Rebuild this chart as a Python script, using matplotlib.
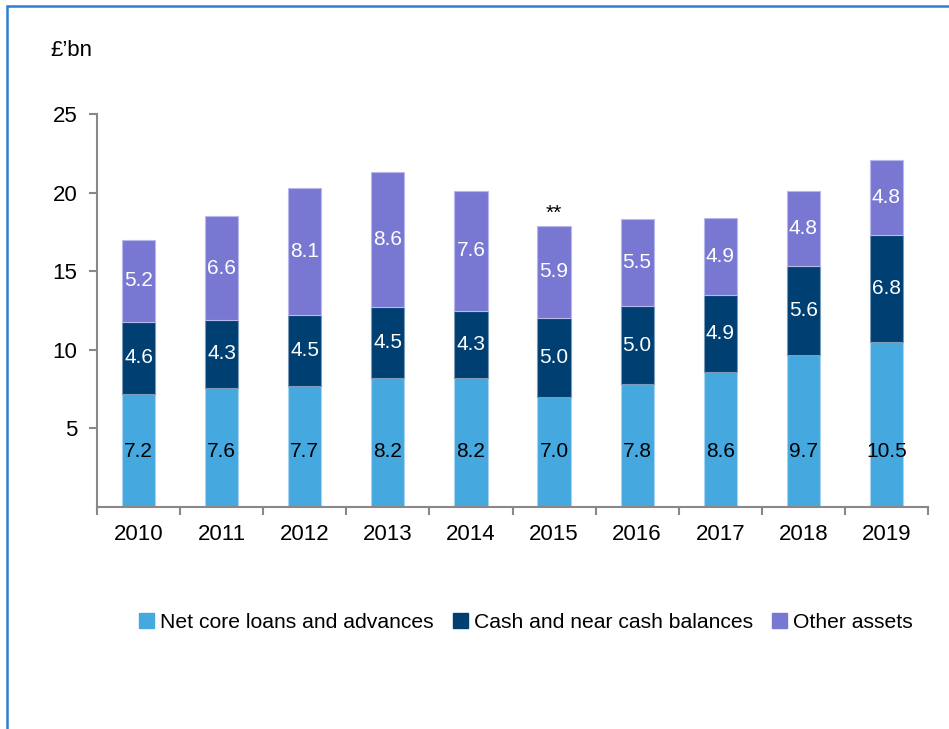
import matplotlib.pyplot as plt
import matplotlib.patches as mpatches
import numpy as np

plt.rcParams['font.family'] = ['Liberation Sans', 'DejaVu Sans']

years = ['2010', '2011', '2012', '2013', '2014', '2015', '2016', '2017', '2018', '2019']
loans = [7.2, 7.6, 7.7, 8.2, 8.2, 7.0, 7.8, 8.6, 9.7, 10.5]
cash = [4.6, 4.3, 4.5, 4.5, 4.3, 5.0, 5.0, 4.9, 5.6, 6.8]
other = [5.2, 6.6, 8.1, 8.6, 7.6, 5.9, 5.5, 4.9, 4.8, 4.8]
series_names = ['Net core loans and advances', 'Cash and near cash balances', 'Other assets']

c_loans = '#45a8df'
c_cash = '#003f72'
c_other = '#7878d2'

fig = plt.figure(figsize=(9.49, 7.29), dpi=100)
ax = fig.add_axes([97/949, 1-507/729, 831/949, (507-114)/729])

x = np.arange(len(years))
loans = np.array(loans)
cash = np.array(cash)
other = np.array(other)
w = 0.4
ax.bar(x, loans, w, color=c_loans, edgecolor='#a8d4f0', linewidth=0.8, label=series_names[0])
ax.bar(x, cash, w, bottom=loans, color=c_cash, edgecolor='#7a9ab8', linewidth=0.8, label=series_names[1])
ax.bar(x, other, w, bottom=loans + cash, color=c_other, edgecolor='#b8b8ec', linewidth=0.8, label=series_names[2])

fs = 16
lfs = 15
for i in range(len(years)):
    ax.text(x[i], 3.5, f'{loans[i]:.1f}', ha='center', va='center', fontsize=lfs, color='black')
    ax.text(x[i], loans[i] + cash[i] / 2, f'{cash[i]:.1f}', ha='center', va='center', fontsize=lfs, color='white')
    ax.text(x[i], loans[i] + cash[i] + other[i] / 2, f'{other[i]:.1f}', ha='center', va='center', fontsize=lfs, color='white')

# note above 2015
i15 = years.index('2015')
ax.text(x[i15], loans[i15] + cash[i15] + other[i15] + 0.75, '**', ha='center', va='center', fontsize=15)

ax.set_xlim(-0.5, len(years) - 0.5)
ax.set_ylim(0, 25)
ax.set_yticks([5, 10, 15, 20, 25])
ax.set_xticks(x)
ax.set_xticklabels(years)
ax.set_xticks(np.arange(len(years) + 1) - 0.5, minor=True)
ax.tick_params(axis='x', which='major', length=0, labelsize=fs, pad=12)
ax.tick_params(axis='x', which='minor', length=6, color='#888888', width=1.5)
ax.tick_params(axis='y', length=6, color='#888888', width=1.5, labelsize=fs, pad=8)
for s in ['top', 'right']:
    ax.spines[s].set_visible(False)
for s in ['left', 'bottom']:
    ax.spines[s].set_color('#888888')
    ax.spines[s].set_linewidth(1.5)

fig.text(50/949, 1-50/729, '£’bn', fontsize=fs, va='center', ha='left')

handles = [mpatches.Patch(color=c, label=n) for c, n in zip([c_loans, c_cash, c_other], series_names)]
fig.legend(handles=handles, loc='center', bbox_to_anchor=(526/949, 1-622/729), ncol=3, frameon=False,
           fontsize=15.2, handlelength=0.7, handleheight=0.7, handletextpad=0.3, columnspacing=0.9)

# blue frame around chart
fig.patches.append(mpatches.Rectangle((7/949, -0.1), 1.2, 1 - 6/729 + 0.1, transform=fig.transFigure,
                                      fill=False, edgecolor='#2a7fd0', linewidth=1.8))

fig.savefig('out.png', dpi=100)
